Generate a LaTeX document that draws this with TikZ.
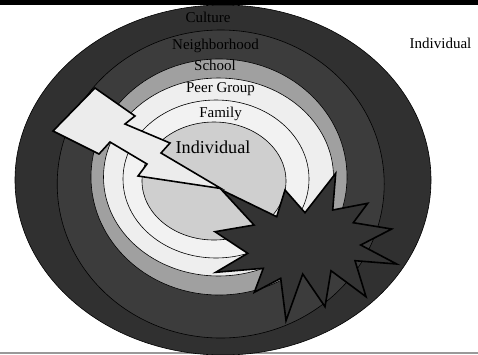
\documentclass[tikz,border=0pt]{standalone}
\usepackage{fontspec}
\setmainfont{Liberation Serif}
\definecolor{cCulture}{HTML}{303030}
\definecolor{cNeigh}{HTML}{3C3C3C}
\definecolor{cSchool}{HTML}{A0A0A0}
\definecolor{cPeer}{HTML}{EEEEEE}
\definecolor{cFamily}{HTML}{F2F2F2}
\definecolor{cIndiv}{HTML}{CFCFCF}
\definecolor{cBolt}{HTML}{ECECEC}
\definecolor{cStar}{HTML}{333333}
\tikzset{
  ring/.style={draw=black,line width=0.6pt},
  burst/.style={draw=black,line width=1.6pt,line join=miter,miter limit=10},
  lab/.style={font=\fontsize{15}{17}\selectfont,text=black,inner sep=0pt},
}
\begin{document}
\begin{tikzpicture}[x=1pt,y=-1pt]
\useasboundingbox (0,0) rectangle (478,354);
\fill[white] (0,0) rectangle (478,354);
\fill[gray!80] (0,352) rectangle (478,354);
\draw[ring,fill=cCulture] (223,180) ellipse [x radius=208,y radius=175];
\draw[ring,fill=cNeigh] (220.7,184) ellipse [x radius=163.5,y radius=154];
\draw[ring,fill=cSchool] (219,177) ellipse [x radius=128,y radius=118];
\draw[ring,fill=cPeer] (218.5,177) ellipse [x radius=115,y radius=99];
\draw[ring,fill=cFamily] (216,179) ellipse [x radius=93,y radius=79];
\draw[ring,fill=cIndiv] (214,181) ellipse [x radius=72,y radius=59];
\fill[black] (0,0) rectangle (478,4.5);
\draw[burst,fill=cBolt] (95,88) -- (135,116) -- (125,124) -- (170,143) -- (161,153) -- (221,188.5) -- (138,176) -- (147,164) -- (110,142) -- (99,154) -- (53,131) -- cycle;
\draw[burst,fill=cStar] (221.7,190) -- (276.7,216.7) -- (285,190) -- (305,212.7) -- (335.7,173.3) -- (332.7,210) -- (367.7,203.3) -- (353.3,222.7) -- (391.7,229) -- (360.7,245) -- (396.7,264) -- (355,260.7) -- (366,296.7) -- (331,270.7) -- (325,306.7) -- (302.7,274) -- (286,320.7) -- (280.7,278.3) -- (254.3,292.3) -- (263.3,268.3) -- (215.7,272.3) -- (247.7,253.3) -- (215,231.7) -- (254,225) -- cycle;
\node[lab] (culture) at (208,17) {Culture};
\node[lab] (neighborhood) at (215.5,45.5) {Neighborhood};
\node[lab] (school) at (215,65.5) {School};
\node[lab] (peer) at (220.5,89) {Peer Group};
\node[lab] (family) at (220.5,113.5) {Family};
\node[lab,font=\fontsize{18.2}{20}\selectfont] (individual) at (213,147) {Individual};
\node[lab] (legend) at (440.5,43.5) {Individual};
\end{tikzpicture}
\end{document}
